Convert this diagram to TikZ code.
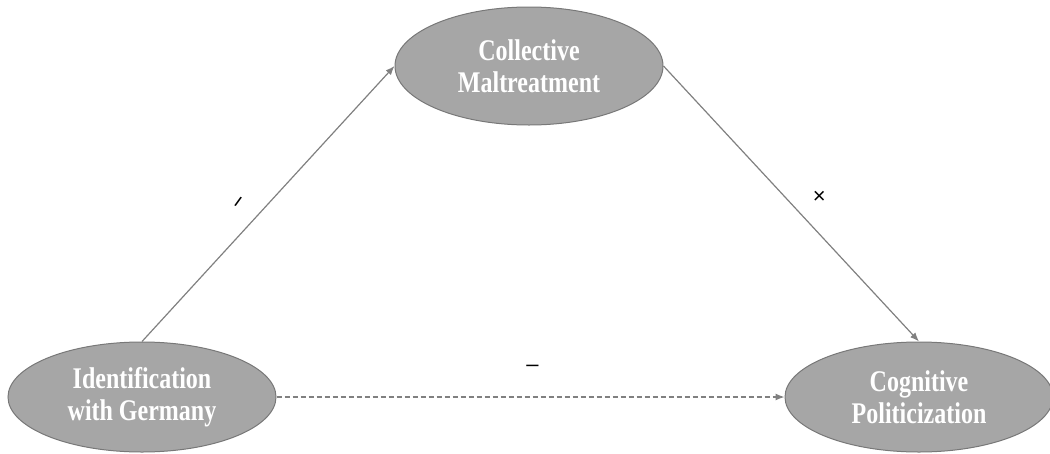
\documentclass[tikz,border=0pt]{standalone}
\usepackage{fontspec}
\usepackage{xcolor}
\usepackage{tikz}
\usetikzlibrary{arrows.meta, positioning, shapes.geometric}
\setmainfont{Liberation Serif}
\newfontfamily\ellfont[FakeStretch=0.8]{Liberation Serif}
\newfontfamily\lblfont{Liberation Sans}
\definecolor{ellfill}{RGB}{166,166,166}
\definecolor{ellline}{RGB}{120,120,120}
\definecolor{linkgray}{RGB}{128,128,128}

\begin{document}
\begin{tikzpicture}[
	  x=1pt, y=-1pt,
	  node distance=508pt,
	  ellbox/.style={
	    ellipse,
	    draw=ellline,
	    line width=1pt,
	    fill=ellfill,
	    text=white,
	    align=center,
	    inner sep=0pt,
	    minimum width=268pt,
	    minimum height=110pt,
	    font=\ellfont\bfseries\fontsize{30}{32}\selectfont
	  },
	  lbl/.style={font=\lblfont\fontsize{22}{24}\selectfont, inner sep=0pt},
	  arrow/.style={-{Latex[length=9pt,width=7pt]}, line width=1.2pt, draw=linkgray},
	  dashedarrow/.style={arrow, dash pattern=on 5pt off 3pt}
	]
	\useasboundingbox (0,0) rectangle (1050,453);
	
	\node[ellbox] (ident) at (142,397) {Identification\\with Germany};
	\node[ellbox, right=of ident] (cogpol) {Cognitive\\Politicization};
	\node[ellbox, minimum height=118pt] (collmal) at (529,66) {Collective\\Maltreatment};
	
	\draw[arrow] (ident.north) -- node[lbl, midway, xshift=-30pt, yshift=2pt, rotate=-25, font=\lblfont\bfseries\fontsize{14}{16}\selectfont]{/} (collmal.west);
	\draw[arrow] (collmal.east) -- node[lbl, midway, xshift=28pt, yshift=6pt]{×} (cogpol.north);
	\draw[dashedarrow] (ident.east) -- node[lbl, midway, xshift=2pt, yshift=29pt]{–} (cogpol.west);
	
	\end{tikzpicture}
\end{document}
